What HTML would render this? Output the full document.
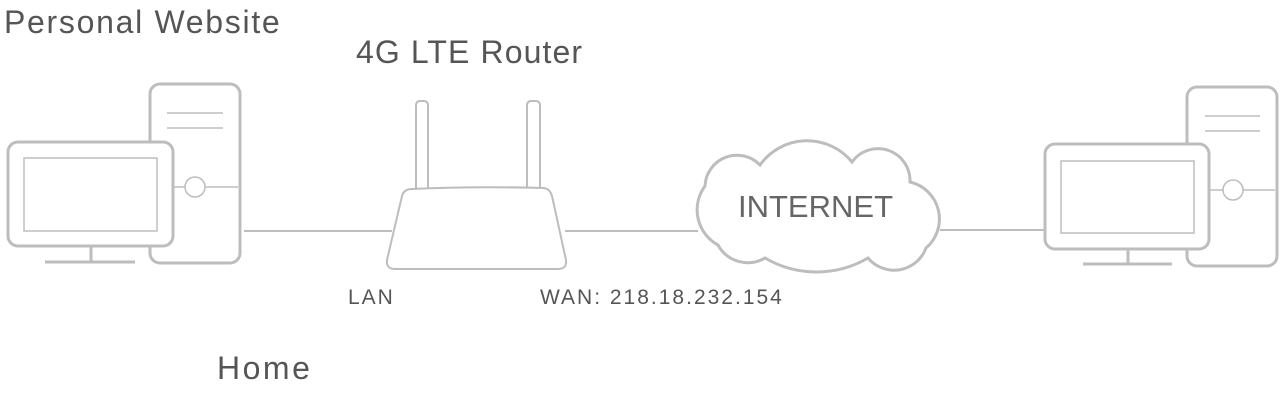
<!DOCTYPE html>
<html><head><meta charset="utf-8"><style>
html,body{margin:0;padding:0;background:#fff;}
body{width:1285px;height:404px;position:relative;overflow:hidden;font-family:"Liberation Sans",sans-serif;color:#555;}
.t{position:absolute;white-space:nowrap;line-height:1;}
</style></head><body>
<svg width="1285" height="404" style="position:absolute;left:0;top:0" fill="none" stroke="#bdbdbd">
<!-- left PC -->
<rect x="150" y="84" width="90" height="179" rx="10" stroke-width="3"/>
<line x1="167" y1="113" x2="223" y2="113" stroke-width="1.5"/>
<line x1="167" y1="128" x2="223" y2="128" stroke-width="1.5"/>
<circle cx="195" cy="187" r="10" stroke-width="1.5" fill="#fff"/>
<line x1="172" y1="187" x2="185" y2="187" stroke-width="1.5"/>
<line x1="205" y1="187" x2="238" y2="187" stroke-width="1.5"/>
<rect x="8" y="142" width="165" height="104" rx="10" stroke-width="3" fill="#fff"/>
<rect x="24" y="158" width="133" height="73" stroke-width="1.5"/>
<line x1="91" y1="246" x2="91" y2="262" stroke-width="3"/>
<line x1="45" y1="262" x2="135" y2="262" stroke-width="3"/>
<!-- connectors -->
<line x1="244" y1="231" x2="392" y2="231" stroke-width="2"/>
<line x1="565" y1="231" x2="698" y2="231" stroke-width="2"/>
<line x1="940" y1="230" x2="1045" y2="230" stroke-width="2"/>
<!-- router -->
<path d="M416,189 L416,106 Q416,101 420,101 L424,101 Q428,101 428,106 L428,188" stroke-width="2"/>
<path d="M527,188 L527,106 Q527,101 531,101 L536,101 Q540,101 540,106 L540,188" stroke-width="2"/>
<path d="M412,189 Q470,186 544,188 Q550,189 552,196 L566,260 Q567,269 558,269 L395,269 Q386,269 387,260 L402,196 Q404,189 412,189 Z" stroke-width="2" fill="#fff"/>
<!-- cloud -->
<path d="M718,245 A40 40 0 0 1 705,186 A32 32 0 0 1 760,165 A58 58 0 0 1 852,162 A32 32 0 0 1 910,182 A38 38 0 0 1 926,248 A34 34 0 0 1 868,258 A102 102 0 0 1 765,258 A34 34 0 0 1 718,245 Z" stroke-width="3" fill="#fff"/>
<!-- right PC -->
<rect x="1187" y="87" width="90" height="179" rx="10" stroke-width="3"/>
<line x1="1205" y1="116" x2="1260" y2="116" stroke-width="1.5"/>
<line x1="1205" y1="131" x2="1260" y2="131" stroke-width="1.5"/>
<circle cx="1233" cy="190" r="10" stroke-width="1.5" fill="#fff"/>
<line x1="1209" y1="190" x2="1223" y2="190" stroke-width="1.5"/>
<line x1="1243" y1="190" x2="1275" y2="190" stroke-width="1.5"/>
<rect x="1045" y="144" width="164" height="105" rx="10" stroke-width="3" fill="#fff"/>
<rect x="1061" y="161" width="133" height="72" stroke-width="1.5"/>
<line x1="1128" y1="249" x2="1128" y2="264" stroke-width="3"/>
<line x1="1083" y1="264" x2="1172" y2="264" stroke-width="3"/>
</svg>
<div class="t" style="left:4px;top:6px;font-size:32px;letter-spacing:1.7px;">Personal Website</div>
<div class="t" style="left:356px;top:36px;font-size:32px;letter-spacing:1.1px;">4G LTE Router</div>
<div class="t" style="left:738px;top:191px;font-size:31px;color:#666;letter-spacing:0px;">INTERNET</div>
<div class="t" style="left:348px;top:287px;font-size:21px;letter-spacing:2px;">LAN</div>
<div class="t" style="left:540px;top:287px;font-size:21px;letter-spacing:2px;">WAN: 218.18.232.154</div>
<div class="t" style="left:217px;top:352px;font-size:32px;letter-spacing:2.5px;">Home</div>
</body></html>
